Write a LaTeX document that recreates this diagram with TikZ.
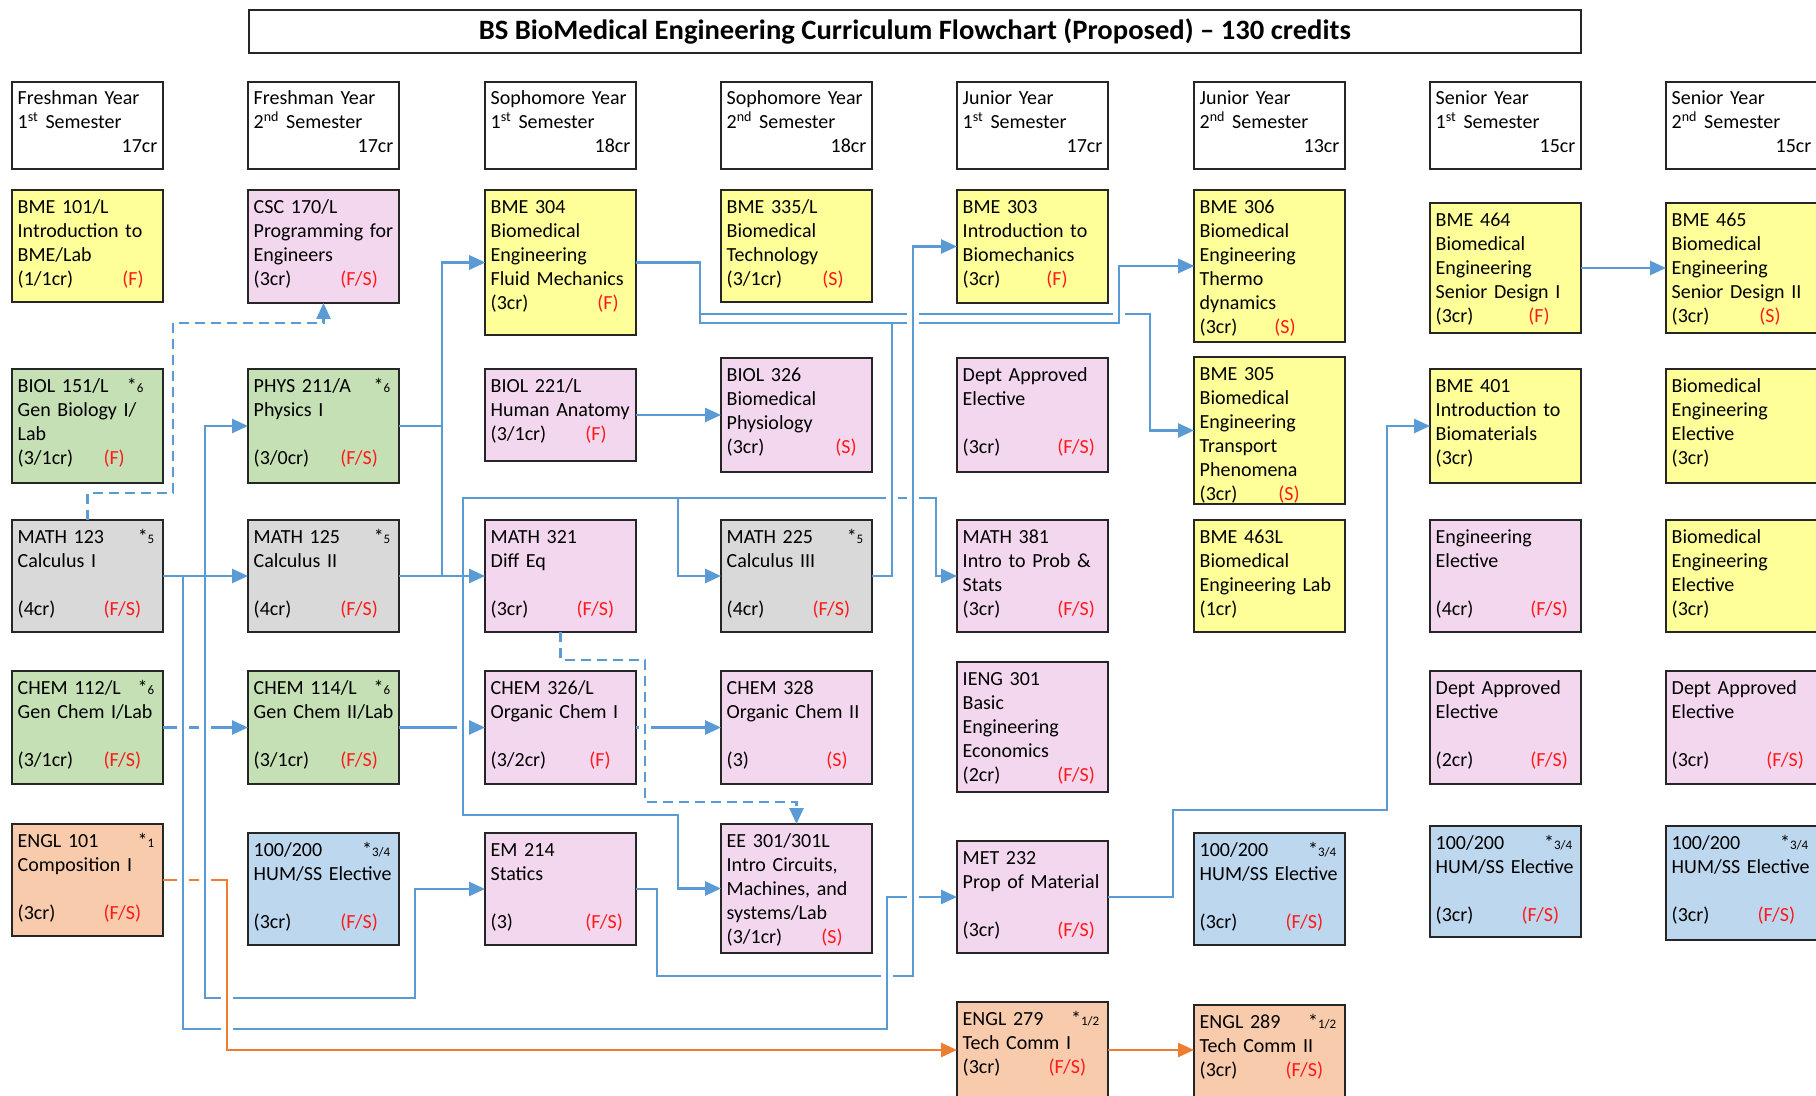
\documentclass[tikz,border=0pt]{standalone}
\usepackage{fontspec}
\setmainfont{Carlito}
\usepackage{graphicx}
\usetikzlibrary{arrows.meta}
\definecolor{cyellow}{HTML}{FFFF99}
\definecolor{cpink}{HTML}{F3D7EE}
\definecolor{cgreen}{HTML}{C5E0B4}
\definecolor{cgray}{HTML}{D9D9D9}
\definecolor{cpeach}{HTML}{F8CBAD}
\definecolor{cblue}{HTML}{BDD7EE}
\definecolor{lblue}{HTML}{5B9BD5}
\definecolor{lorange}{HTML}{ED7D31}
\definecolor{tagred}{HTML}{FF1A1A}
\tikzset{
  cbox/.style={draw=black!85, line width=0.8pt, anchor=north west, minimum width=75.5pt, inner sep=0pt, outer sep=0pt},
  ctext/.style={anchor=base west, text width=80pt, align=left, inner sep=0pt, font=\fontsize{10}{12}\selectfont},
  conn/.style={draw=lblue, line width=1.3pt},
  arr/.style={conn, -{Triangle[length=8pt,width=7pt]}},
  dsh/.style={dash pattern=on 5pt off 3pt},
  oarr/.style={arr, draw=lorange},
}
\newcommand\crt[3]{\makebox[#2][l]{#1}\textcolor{tagred}{#3}}
\newcommand\wstar[3][68.3pt]{\makebox[#1][l]{#2\hfill*{\fontsize{6.5}{7}\selectfont #3}}}
\newcommand\crs[6]{%
  \node[cbox, fill=#5, minimum height={(#4-#3)*0.5pt}] (#1) at (#2,#3) {};
  \node[ctext] (#1-t) at ([xshift=2.65pt,yshift=-11.75pt]#1.north west) {#6};}
\newcommand\hdr[5]{%
  \node[cbox, fill=white, minimum height=43.5pt] (#1) at (#2,82) {};
  \node[ctext] (#1-t) at ([xshift=2.65pt,yshift=-11.5pt]#1.north west) {#3\\#4 Semester\\\makebox[69.85pt][r]{#5}};}
\newcommand\hop[3][lblue]{%
  \fill[white] (#2-6,#3-2.6) rectangle (#2+6,#3+2.6);
  \draw[#1, line width=1.3pt] (#2,#3-4) -- (#2,#3+4);}
\begin{document}
\begin{tikzpicture}[x=0.5pt,y=-0.5pt]
\useasboundingbox (0,0) rectangle (1816,1096);
\clip (0,0) rectangle (1816,1096);
\fill[white] (0,0) rectangle (1816,1096);
% title
\node[draw=black!85, line width=0.8pt, anchor=north west, minimum width=666pt, minimum height=21.5pt, inner sep=0pt] (title) at (248,9)
  {\resizebox{436pt}{\height}{\fontsize{14}{16}\selectfont\bfseries BS BioMedical Engineering Curriculum Flowchart (Proposed) \textendash\ 130 credits}};
% headers
\hdr{H1}{12}{Freshman Year}{1\textsuperscript{st}}{17cr}
\hdr{H2}{248}{Freshman Year}{2\textsuperscript{nd}}{17cr}
\hdr{H3}{485}{Sophomore Year}{1\textsuperscript{st}}{18cr}
\hdr{H4}{721}{Sophomore Year}{2\textsuperscript{nd}}{18cr}
\hdr{H5}{957}{Junior Year}{1\textsuperscript{st}}{17cr}
\hdr{H6}{1194}{Junior Year}{2\textsuperscript{nd}}{13cr}
\hdr{H7}{1430}{Senior Year}{1\textsuperscript{st}}{15cr}
\hdr{H8}{1666}{Senior Year}{2\textsuperscript{nd}}{15cr}
% column 1
\crs{BME101}{12}{190}{302}{cyellow}{BME 101/L\\Introduction to\\BME/Lab\\\crt{(1/1cr)}{52.3pt}{(F)}}
\crs{BIOL151}{12}{369}{483}{cgreen}{\wstar[62.9pt]{BIOL 151/L}{6}\\Gen Biology I/\\Lab\\\crt{(3/1cr)}{42.9pt}{(F)}}
\crs{MATH123}{12}{520}{632}{cgray}{\wstar{MATH 123}{5}\\Calculus I\\~\\\crt{(4cr)}{42.9pt}{(F/S)}}
\crs{CHEM112}{12}{671}{784}{cgreen}{\wstar{CHEM 112/L}{6}\\Gen Chem I/Lab\\~\\\crt{(3/1cr)}{42.9pt}{(F/S)}}
\crs{ENGL101}{12}{824}{936}{cpeach}{\wstar{ENGL 101}{1}\\Composition I\\~\\\crt{(3cr)}{42.9pt}{(F/S)}}
% column 2
\crs{CSC170}{248}{190}{303}{cpink}{CSC 170/L\\Programming for\\Engineers\\\crt{(3cr)}{43.3pt}{(F/S)}}
\crs{PHYS211}{248}{369}{483}{cgreen}{\wstar{PHYS 211/A}{6}\\Physics I\\~\\\crt{(3/0cr)}{43.3pt}{(F/S)}}
\crs{MATH125}{248}{520}{632}{cgray}{\wstar{MATH 125}{5}\\Calculus II\\~\\\crt{(4cr)}{43.3pt}{(F/S)}}
\crs{CHEM114}{248}{671}{784}{cgreen}{\wstar{CHEM 114/L}{6}\\Gen Chem II/Lab\\~\\\crt{(3/1cr)}{43.3pt}{(F/S)}}
\crs{HUMa}{248}{833}{945}{cblue}{\wstar{100/200}{3/4}\\HUM/SS Elective\\~\\\crt{(3cr)}{43.3pt}{(F/S)}}
% column 3
\crs{BME304}{485}{190}{335}{cyellow}{BME 304\\Biomedical\\Engineering\\Fluid Mechanics\\\crt{(3cr)}{53.3pt}{(F)}}
\crs{BIOL221}{485}{369}{461}{cpink}{BIOL 221/L\\Human Anatomy\\\crt{(3/1cr)}{47.3pt}{(F)}}
\crs{MATH321}{485}{520}{632}{cpink}{MATH 321\\Diff Eq\\~\\\crt{(3cr)}{42.9pt}{(F/S)}}
\crs{CHEM326}{485}{671}{784}{cpink}{CHEM 326/L\\Organic Chem I\\~\\\crt{(3/2cr)}{49.3pt}{(F)}}
\crs{EM214}{485}{833}{945}{cpink}{EM 214\\Statics\\~\\\crt{(3)}{47.3pt}{(F/S)}}
% column 4
\crs{BME335}{721}{190}{302}{cyellow}{BME 335/L\\Biomedical\\Technology\\\crt{(3/1cr)}{47.8pt}{(S)}}
\crs{BIOL326}{721}{358}{472}{cpink}{BIOL 326\\Biomedical\\Physiology\\\crt{(3cr)}{54.3pt}{(S)}}
\crs{MATH225}{721}{520}{632}{cgray}{\wstar{MATH 225}{5}\\Calculus III\\~\\\crt{(4cr)}{42.9pt}{(F/S)}}
\crs{CHEM328}{721}{671}{784}{cpink}{CHEM 328\\Organic Chem II\\~\\\crt{(3)}{49.8pt}{(S)}}
\crs{EE301}{721}{824}{953}{cpink}{EE 301/301L\\Intro Circuits,\\Machines, and\\systems/Lab\\\crt{(3/1cr)}{47.3pt}{(S)}}
% column 5
\crs{BME303}{957}{190}{303}{cyellow}{BME 303\\Introduction to\\Biomechanics\\\crt{(3cr)}{41.8pt}{(F)}}
\crs{DEPTa}{957}{358}{472}{cpink}{Dept Approved\\Elective\\~\\\crt{(3cr)}{47.3pt}{(F/S)}}
\crs{MATH381}{957}{520}{632}{cpink}{MATH 381\\Intro to Prob \&\\Stats\\\crt{(3cr)}{47.3pt}{(F/S)}}
\crs{IENG301}{957}{662}{792}{cpink}{IENG 301\\Basic\\Engineering\\Economics\\\crt{(2cr)}{47.3pt}{(F/S)}}
\crs{MET232}{957}{841}{953}{cpink}{MET 232\\Prop of Material\\~\\\crt{(3cr)}{47.3pt}{(F/S)}}
\crs{ENGL279}{957}{1002}{1098}{cpeach}{\wstar{ENGL 279}{1/2}\\Tech Comm I\\\crt{(3cr)}{42.9pt}{(F/S)}}
% column 6
\crs{BME306}{1194}{190}{342}{cyellow}{BME 306\\Biomedical\\Engineering\\Thermo\\dynamics\\\crt{(3cr)}{37.3pt}{(S)}}
\crs{BME305}{1194}{357}{504}{cyellow}{BME 305\\Biomedical\\Engineering\\Transport\\Phenomena\\\crt{(3cr)}{39.3pt}{(S)}}
\crs{BME463}{1194}{520}{632}{cyellow}{BME 463L\\Biomedical\\Engineering Lab\\(1cr)}
\crs{HUMb}{1194}{833}{945}{cblue}{\wstar{100/200}{3/4}\\HUM/SS Elective\\~\\\crt{(3cr)}{42.9pt}{(F/S)}}
\crs{ENGL289}{1194}{1005}{1098}{cpeach}{\wstar{ENGL 289}{1/2}\\Tech Comm II\\\crt{(3cr)}{42.9pt}{(F/S)}}
% column 7
\crs{BME464}{1430}{203}{333}{cyellow}{BME 464\\Biomedical\\Engineering\\Senior Design I\\\crt{(3cr)}{46.3pt}{(F)}}
\crs{BME401}{1430}{369}{483}{cyellow}{BME 401\\Introduction to\\Biomaterials\\(3cr)}
\crs{ENGE}{1430}{520}{632}{cpink}{Engineering\\Elective\\~\\\crt{(4cr)}{47.3pt}{(F/S)}}
\crs{DEPTb}{1430}{671}{784}{cpink}{Dept Approved\\Elective\\~\\\crt{(2cr)}{47.3pt}{(F/S)}}
\crs{HUMc}{1430}{826}{937}{cblue}{\wstar{100/200}{3/4}\\HUM/SS Elective\\~\\\crt{(3cr)}{42.9pt}{(F/S)}}
% column 8
\crs{BME465}{1666}{203}{333}{cyellow}{BME 465\\Biomedical\\Engineering\\Senior Design II\\\crt{(3cr)}{43.8pt}{(S)}}
\crs{BMEEa}{1666}{369}{483}{cyellow}{Biomedical\\Engineering\\Elective\\(3cr)}
\crs{BMEEb}{1666}{520}{632}{cyellow}{Biomedical\\Engineering\\Elective\\(3cr)}
\crs{DEPTc}{1666}{671}{784}{cpink}{Dept Approved\\Elective\\~\\\crt{(3cr)}{47.3pt}{(F/S)}}
\crs{HUMd}{1666}{826}{940}{cblue}{\wstar{100/200}{3/4}\\HUM/SS Elective\\~\\\crt{(3cr)}{42.9pt}{(F/S)}}
% ---------- connectors ----------
\draw[arr] (MATH123.east) -- (MATH125.west);
\draw[arr] (MATH123.east) -| (205,426) -- (PHYS211.west);
\draw[arr] (MATH123.east) -| (205,998) -| (415,889) -- (EM214.west);
\draw[arr] (MATH123.east) -| (183,1029) -| (887,897) -- (MET232.west);
\draw[arr] (CHEM112.east) -- (CHEM114.west);
\draw[oarr] (ENGL101.east) -| (227,1050) -- (ENGL279.west);
\draw[oarr] (ENGL279.east) -- (ENGL279.east -| ENGL289.west);
\draw[arr] (PHYS211.east) -| (442,262.5) -- (BME304.west);
\draw[arr] (MATH125.east) -| (442,262.5) -- (BME304.west);
\draw[arr] (MATH125.east) -- (MATH321.west);
\draw[arr] (MATH125.east) -| (463,498) -| (678,576) -- (MATH225.west);
\draw[arr] (MATH125.east) -| (463,498) -| (936,576) -- (MATH381.west);
\draw[arr] (MATH125.east) -| (463,815) -| (678,888.5) -- (EE301.west);
\draw[arr] (CHEM114.east) -- (CHEM326.west);
\draw[arr] (CHEM326.east) -- (CHEM328.west);
\draw[arr] (BIOL221.east) -- (BIOL221.east -| BIOL326.west);
\draw[arr] (EM214.east) -| (657,976) -| (913,246.5) -- (BME303.west);
\draw[arr] (BME304.east) -| (700,323) -| (1119,266) -- (BME306.west);
\draw[arr] (BME304.east) -| (700,314) -| (1150,430.5) -- (BME305.west);
\draw[arr] (MATH225.east) -| (892,323) -| (1119,266) -- (BME306.west);
\draw[arr] (MET232.east) -| (1173,810) -| (1387,426) -- (BME401.west);
\draw[arr] (BME464.east) -- (BME465.west);
% line hops (horizontal line broken where a vertical crosses)
\hop{183}{727.5}\hop{205}{727.5}
\hop{183}{880}\hop{205}{880}
\hop{463}{727.5}
\hop[lorange]{227}{998}\hop[lorange]{227}{1029}
\hop{887}{976}\hop{913}{897}
\hop{892}{498}\hop{913}{498}
\hop{913}{323}\hop{913}{314}\hop{1119}{314}
\fill[white] (639,724.9) rectangle (651,730.1);
% dashed prerequisites
\draw[arr,dsh] (MATH123.north) |- (173,493) |- (323.5,323) -- (CSC170.south);
\draw[arr,dsh] (MATH321.south) |- (645,660) |- (796.5,802) -- (EE301.north);
\end{tikzpicture}
\end{document}
